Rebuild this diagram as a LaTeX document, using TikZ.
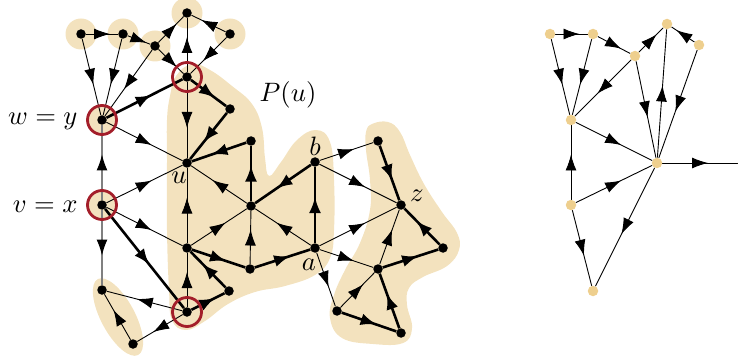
\documentclass[tikz,border=0pt]{standalone}
\usetikzlibrary{arrows.meta,decorations.markings,shapes.geometric}
\definecolor{tanfill}{RGB}{243,226,190}
\definecolor{tandot}{RGB}{238,207,142}
\definecolor{ringred}{RGB}{163,30,42}
\pgfdeclarelayer{bg}\pgfdeclarelayer{edges}\pgfsetlayers{bg,edges,main}
\tikzset{
 dot/.style={circle,fill=black,inner sep=0pt,minimum size=9.5pt},
 sdot/.style={circle,fill=tandot,inner sep=0pt,minimum size=10.5pt},
 halo/.style={circle,fill=tanfill,inner sep=0pt,minimum size=31pt},
 ring/.style={circle,draw=ringred,line width=2.8pt,inner sep=0pt,minimum size=29pt},
 e/.style={line width=0.9pt, postaction={decorate}, decoration={markings, mark=at position 0.5 with {\pgftransformxshift{8pt}\arrow{Latex[length=16pt,width=11pt,color=black]}}}},
 te/.style={line width=2.6pt, postaction={decorate}, decoration={markings, mark=at position 0.5 with {\pgftransformxshift{8pt}\arrow{Latex[length=16pt,width=12pt,color=black]}}}},
 ge/.style={e,draw=black!50,line width=1.2pt},
 lab/.style={scale=2.66,inner sep=0pt},
}
\begin{document}
\begin{tikzpicture}[x=1pt,y=-1pt]
\useasboundingbox (0,0) rectangle (738,358);
% ---- left graph nodes
\node[dot] (t1) at (81,34) {};
\node[dot] (t2) at (123,34) {};
\node[dot] (t3) at (155,46) {};
\node[dot] (t4) at (187,13) {};
\node[dot] (t5) at (230,34) {};
\node[dot] (c1) at (187,77) {};
\node[dot] (w) at (102,120) {};
\node[dot] (n1) at (230,109) {};
\node[dot] (u) at (187,163) {};
\node[dot] (m1) at (251,141) {};
\node[dot] (b) at (315,162) {};
\node[dot] (h) at (251,206) {};
\node[dot] (v) at (102,205) {};
\node[dot] (L) at (187,248) {};
\node[dot] (a) at (315,248) {};
\node[dot] (p1) at (250,269) {};
\node[dot] (p2) at (229,291) {};
\node[dot] (c2) at (187,312) {};
\node[dot] (q1) at (102,290) {};
\node[dot] (q2) at (133,344) {};
\node[dot] (r1) at (378,141) {};
\node[dot] (z) at (401,205) {};
\node[dot] (r2) at (443,248) {};
\node[dot] (r3) at (378,269) {};
\node[dot] (r4) at (337,311) {};
\node[dot] (r5) at (401,333) {};
% rings
\node[ring] (rw) at (w) {};
\node[ring] (rv) at (v) {};
\node[ring] (rc1) at (c1) {};
\node[ring] (rc2) at (c2) {};
% ---- right graph nodes
\node[sdot] (s1) at (550,34) {};
\node[sdot] (s2) at (593,34) {};
\node[sdot] (s3) at (635,56) {};
\node[sdot] (s4) at (667,24) {};
\node[sdot] (s5) at (699,45) {};
\node[sdot] (s6) at (571,120) {};
\node[sdot] (s7) at (657,163) {};
\node[sdot] (s8) at (571,205) {};
\node[sdot] (s9) at (593,291) {};
\node[sdot] (s10) at (743,163) {};
% ---- labels
\node[lab,anchor=base east] (lwy) at (78,125) {$w = y$};
\node[lab,anchor=base east] (lvx) at (78,212) {$v = x$};
\node[lab] (lu) at (179,178) {$u$};
\node[lab] (lP) at (288,95) {$P(u)$};
\node[lab] (lb) at (315,146) {$b$};
\node[lab] (la) at (309,265) {$a$};
\node[lab] (lz) at (417,196) {$z$};
% ---- background shading
\begin{pgfonlayer}{bg}
\fill[tanfill] plot[smooth cycle, tension=0.7] coordinates {(170,96) (176,76) (192,64) (210,70) (232,86) (252,104) (262,128) (265,158) (269,176) (281,162) (297,140) (316,130) (330,142) (334,180) (334,230) (330,258) (315,275) (285,286) (255,292) (228,304) (205,321) (186,330) (172,320) (169,290) (167,230) (167,160) (167,120)};
\fill[tanfill] plot[smooth cycle, tension=0.7] coordinates {(372,124) (388,122) (400,132) (410,155) (424,184) (442,212) (457,233) (459,250) (447,266) (423,277) (409,288) (407,305) (412,328) (403,343) (373,344) (342,338) (330,318) (334,295) (345,270) (360,243) (370,210) (370,180) (366,150) (366,132)};
\node[ellipse,fill=tanfill,minimum width=86pt,minimum height=34pt,rotate=-62] (qell) at (118,317) {};
\node[halo] (ht1) at (t1) {};
\node[halo] (ht2) at (t2) {};
\node[halo] (ht3) at (t3) {};
\node[halo] (ht4) at (t4) {};
\node[halo] (ht5) at (t5) {};
\node[halo] (hw) at (w) {};
\node[halo] (hv) at (v) {};
\end{pgfonlayer}
% ---- edges
\begin{pgfonlayer}{edges}
\draw[e] (t1) -- (t2);
\draw[e] (t2) -- (t3);
\draw[e] (t3) -- (t4);
\draw[e] (t5) -- (t4);
\draw[e] (c1) -- (t4);
\draw[e] (t3) -- (c1);
\draw[e] (t5) -- (c1);
\draw[e] (t1) -- (w);
\draw[e] (t2) -- (w);
\draw[e] (t3) -- (w);
\draw[e] (w) -- (u);
\draw[e] (c1) -- (u);
\draw[e] (h) -- (u);
\draw[e] (L) -- (u);
\draw[e] (L) -- (h);
\draw[e] (p1) -- (h);
\draw[e] (a) -- (h);
\draw[e] (b) -- (r1);
\draw[e] (b) -- (z);
\draw[e] (a) -- (z);
\draw[e] (a) -- (r3);
\draw[e] (a) -- (r4);
\draw[e] (r3) -- (z);
\draw[e] (r4) -- (r3);
\draw[e] (v) -- (u);
\draw[e] (v) -- (L);
\draw[e] (c2) -- (L);
\draw[e] (c2) -- (q1);
\draw[e] (c2) -- (q2);
\draw[e] (q2) -- (q1);
\draw[ge] (v) -- (w);
\draw[ge] (v) -- (q1);
\draw[te] (w) -- (c1);
\draw[te] (c1) -- (n1);
\draw[te] (n1) -- (u);
\draw[te] (m1) -- (u);
\draw[te] (h) -- (m1);
\draw[te] (b) -- (h);
\draw[te] (a) -- (b);
\draw[te] (p1) -- (a);
\draw[te] (L) -- (p1);
\draw[te] (p2) -- (L);
\draw[te] (c2) -- (p2);
\draw[te] (v) -- (c2);
\draw[te] (r1) -- (z);
\draw[te] (r2) -- (z);
\draw[te] (r3) -- (r2);
\draw[te] (r5) -- (r3);
\draw[te] (r4) -- (r5);
% right graph
\draw[e] (s1) -- (s2);
\draw[e] (s2) -- (s3);
\draw[e] (s3) -- (s4);
\draw[e] (s5) -- (s4);
\draw[e] (s1) -- (s6);
\draw[e] (s2) -- (s6);
\draw[e] (s3) -- (s6);
\draw[e] (s3) -- (s7);
\draw[e] (s7) -- (s4);
\draw[e] (s5) -- (s7);
\draw[e] (s6) -- (s7);
\draw[e] (s8) -- (s6);
\draw[e] (s8) -- (s7);
\draw[e] (s8) -- (s9);
\draw[e] (s7) -- (s9);
\draw[e] (s7) -- (s10);
\end{pgfonlayer}
\end{tikzpicture}
\end{document}
